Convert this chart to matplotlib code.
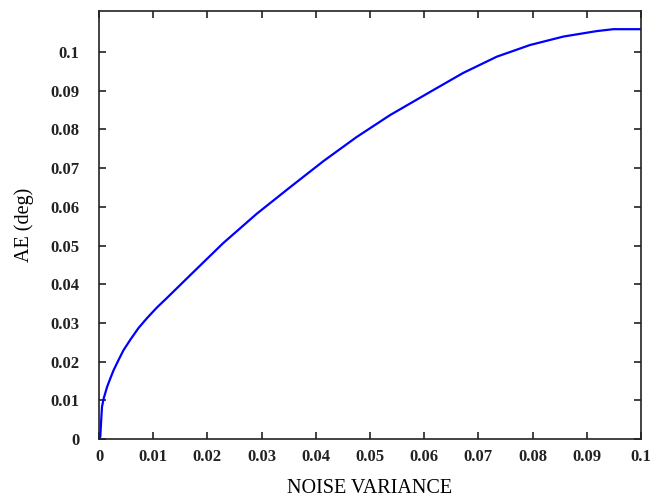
import matplotlib
matplotlib.use("Agg")
import matplotlib.pyplot as plt

# Average error versus noise variance
noise_variance = [0.0, 0.00024, 0.00037, 0.00055, 0.00087, 0.0015, 0.0021,
                  0.0027, 0.0036, 0.0045, 0.0058, 0.0073, 0.0089, 0.0107,
                  0.0125, 0.0141, 0.0171, 0.0229, 0.0291, 0.0352, 0.0414,
                  0.0475, 0.0537, 0.0611, 0.0672, 0.0734, 0.0795, 0.0857,
                  0.0918, 0.0949, 0.1000]
ae_deg = [0.0, 0.0006, 0.0041, 0.0083, 0.0105, 0.0135, 0.0157,
          0.0178, 0.0204, 0.0229, 0.0257, 0.0287, 0.0313, 0.0340,
          0.0364, 0.0386, 0.0427, 0.0506, 0.0582, 0.0650, 0.0718,
          0.0780, 0.0837, 0.0897, 0.0946, 0.0988, 0.1018, 0.1040,
          0.1054, 0.1059, 0.1059]

x_ticks = [0.0, 0.01, 0.02, 0.03, 0.04, 0.05, 0.06, 0.07, 0.08, 0.09, 0.1]
x_tick_labels = ["0", "0.01", "0.02", "0.03", "0.04", "0.05", "0.06", "0.07",
                 "0.08", "0.09", "0.1"]
y_ticks = [0.0, 0.01, 0.02, 0.03, 0.04, 0.05, 0.06, 0.07, 0.08, 0.09, 0.1]
y_tick_labels = ["0", "0.01", "0.02", "0.03", "0.04", "0.05", "0.06", "0.07",
                 "0.08", "0.09", "0.1"]

fig = plt.figure(figsize=(6.65, 5.01), dpi=100)
ax = fig.add_axes([99 / 665, 1 - 439 / 501, 542 / 665, 428 / 501])

ax.plot(noise_variance, ae_deg, color="#0000ff", linewidth=1.6)

ax.set_xlim(0, 0.1)
ax.set_ylim(0, 0.1106)
ax.set_xticks(x_ticks)
ax.set_xticklabels(x_tick_labels)
ax.set_yticks(y_ticks)
ax.set_yticklabels(y_tick_labels)

for lbl in ax.get_xticklabels() + ax.get_yticklabels():
    lbl.set_fontfamily("Liberation Serif")
    lbl.set_fontweight("bold")
    lbl.set_fontsize(12)
    lbl.set_color("#222222")

ax.tick_params(direction="in", length=5, width=1.2, top=True, right=True,
               color="#222222")
ax.tick_params(axis="x", pad=7)
ax.tick_params(axis="y", pad=14)
for spine in ax.spines.values():
    spine.set_linewidth(1.2)
    spine.set_color("#222222")

ax.set_xlabel("NOISE VARIANCE", family="Liberation Serif", fontsize=14.5,
              labelpad=10)
ax.set_ylabel("AE (deg)", family="Liberation Serif", fontsize=14.5,
              labelpad=12)

fig.savefig("out.png", dpi=100, facecolor="white")
